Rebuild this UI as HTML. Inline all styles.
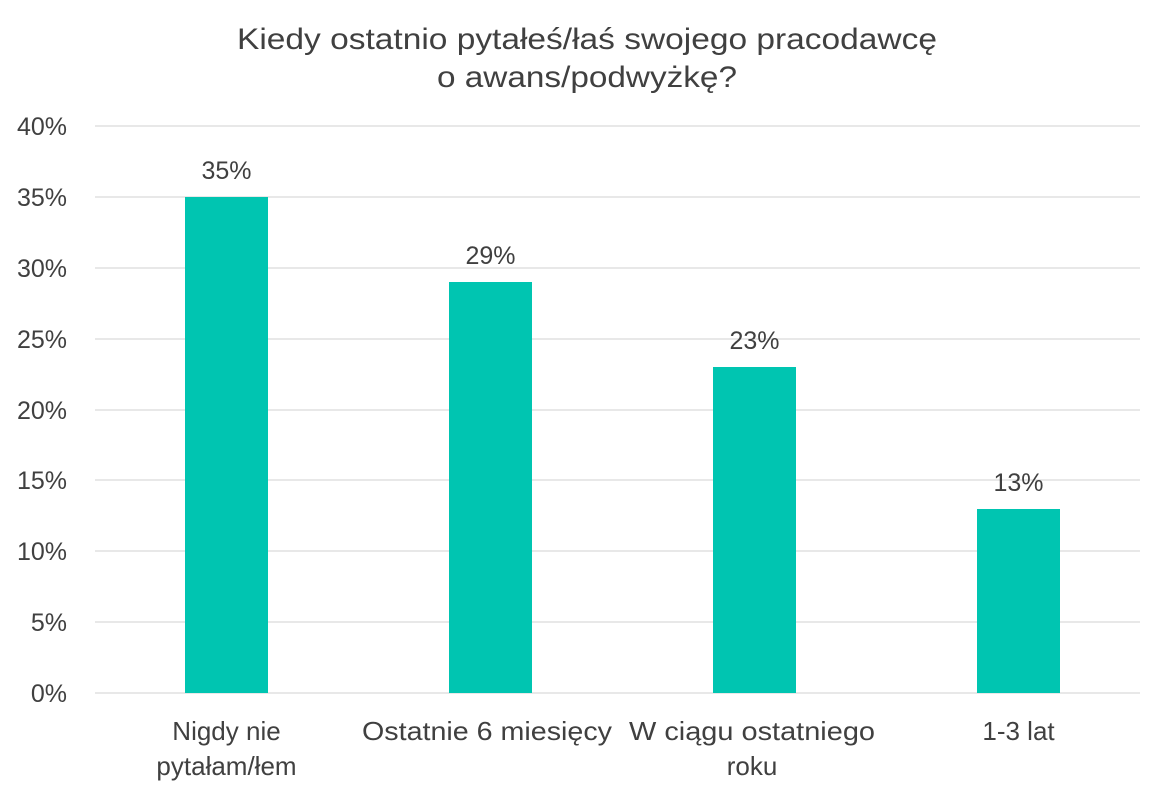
<!DOCTYPE html>
<html><head><meta charset="utf-8"><style>
body{margin:0;background:#fff}
svg text{font-family:"Liberation Sans",sans-serif;fill:#404040}
</style></head><body>
<svg width="1174" height="795" xmlns="http://www.w3.org/2000/svg">
<rect width="1174" height="795" fill="#fff"/>
<text x="587" y="49" font-size="30" text-anchor="middle" textLength="700" lengthAdjust="spacingAndGlyphs">Kiedy ostatnio pytałeś/łaś swojego pracodawcę</text>
<text x="587" y="87" font-size="30" text-anchor="middle" textLength="300" lengthAdjust="spacingAndGlyphs">o awans/podwyżkę?</text>
<g stroke="#d9d9d9" stroke-width="1.3">
<line x1="95" x2="1140" y1="126" y2="126"/><line x1="95" x2="1140" y1="197" y2="197"/>
<line x1="95" x2="1140" y1="268" y2="268"/><line x1="95" x2="1140" y1="339" y2="339"/>
<line x1="95" x2="1140" y1="410" y2="410"/><line x1="95" x2="1140" y1="480" y2="480"/>
<line x1="95" x2="1140" y1="551" y2="551"/><line x1="95" x2="1140" y1="622" y2="622"/>
<line x1="95" x2="1140" y1="693" y2="693"/>
</g>
<g font-size="25" text-anchor="end">
<text x="67" y="135">40%</text><text x="67" y="206">35%</text><text x="67" y="277">30%</text>
<text x="67" y="348">25%</text><text x="67" y="419">20%</text><text x="67" y="489">15%</text>
<text x="67" y="560">10%</text><text x="67" y="631">5%</text><text x="67" y="702">0%</text>
</g>
<g fill="#00c5b1">
<rect x="185" y="197" width="83" height="496"/>
<rect x="449" y="282" width="83" height="411"/>
<rect x="713" y="367" width="83" height="326"/>
<rect x="977" y="509" width="83" height="184"/>
</g>
<g font-size="25" text-anchor="middle">
<text x="226.5" y="179">35%</text><text x="490.5" y="264">29%</text>
<text x="754.5" y="349">23%</text><text x="1018.5" y="491">13%</text>
</g>
<g font-size="26" text-anchor="middle">
<text x="226.5" y="740">Nigdy nie</text><text x="226.5" y="775">pytałam/łem</text>
<text x="487" y="740" textLength="250" lengthAdjust="spacingAndGlyphs">Ostatnie 6 miesięcy</text>
<text x="752" y="740" textLength="246" lengthAdjust="spacingAndGlyphs">W ciągu ostatniego</text><text x="752" y="775">roku</text>
<text x="1018.5" y="740">1-3 lat</text>
</g>
</svg>
</body></html>
